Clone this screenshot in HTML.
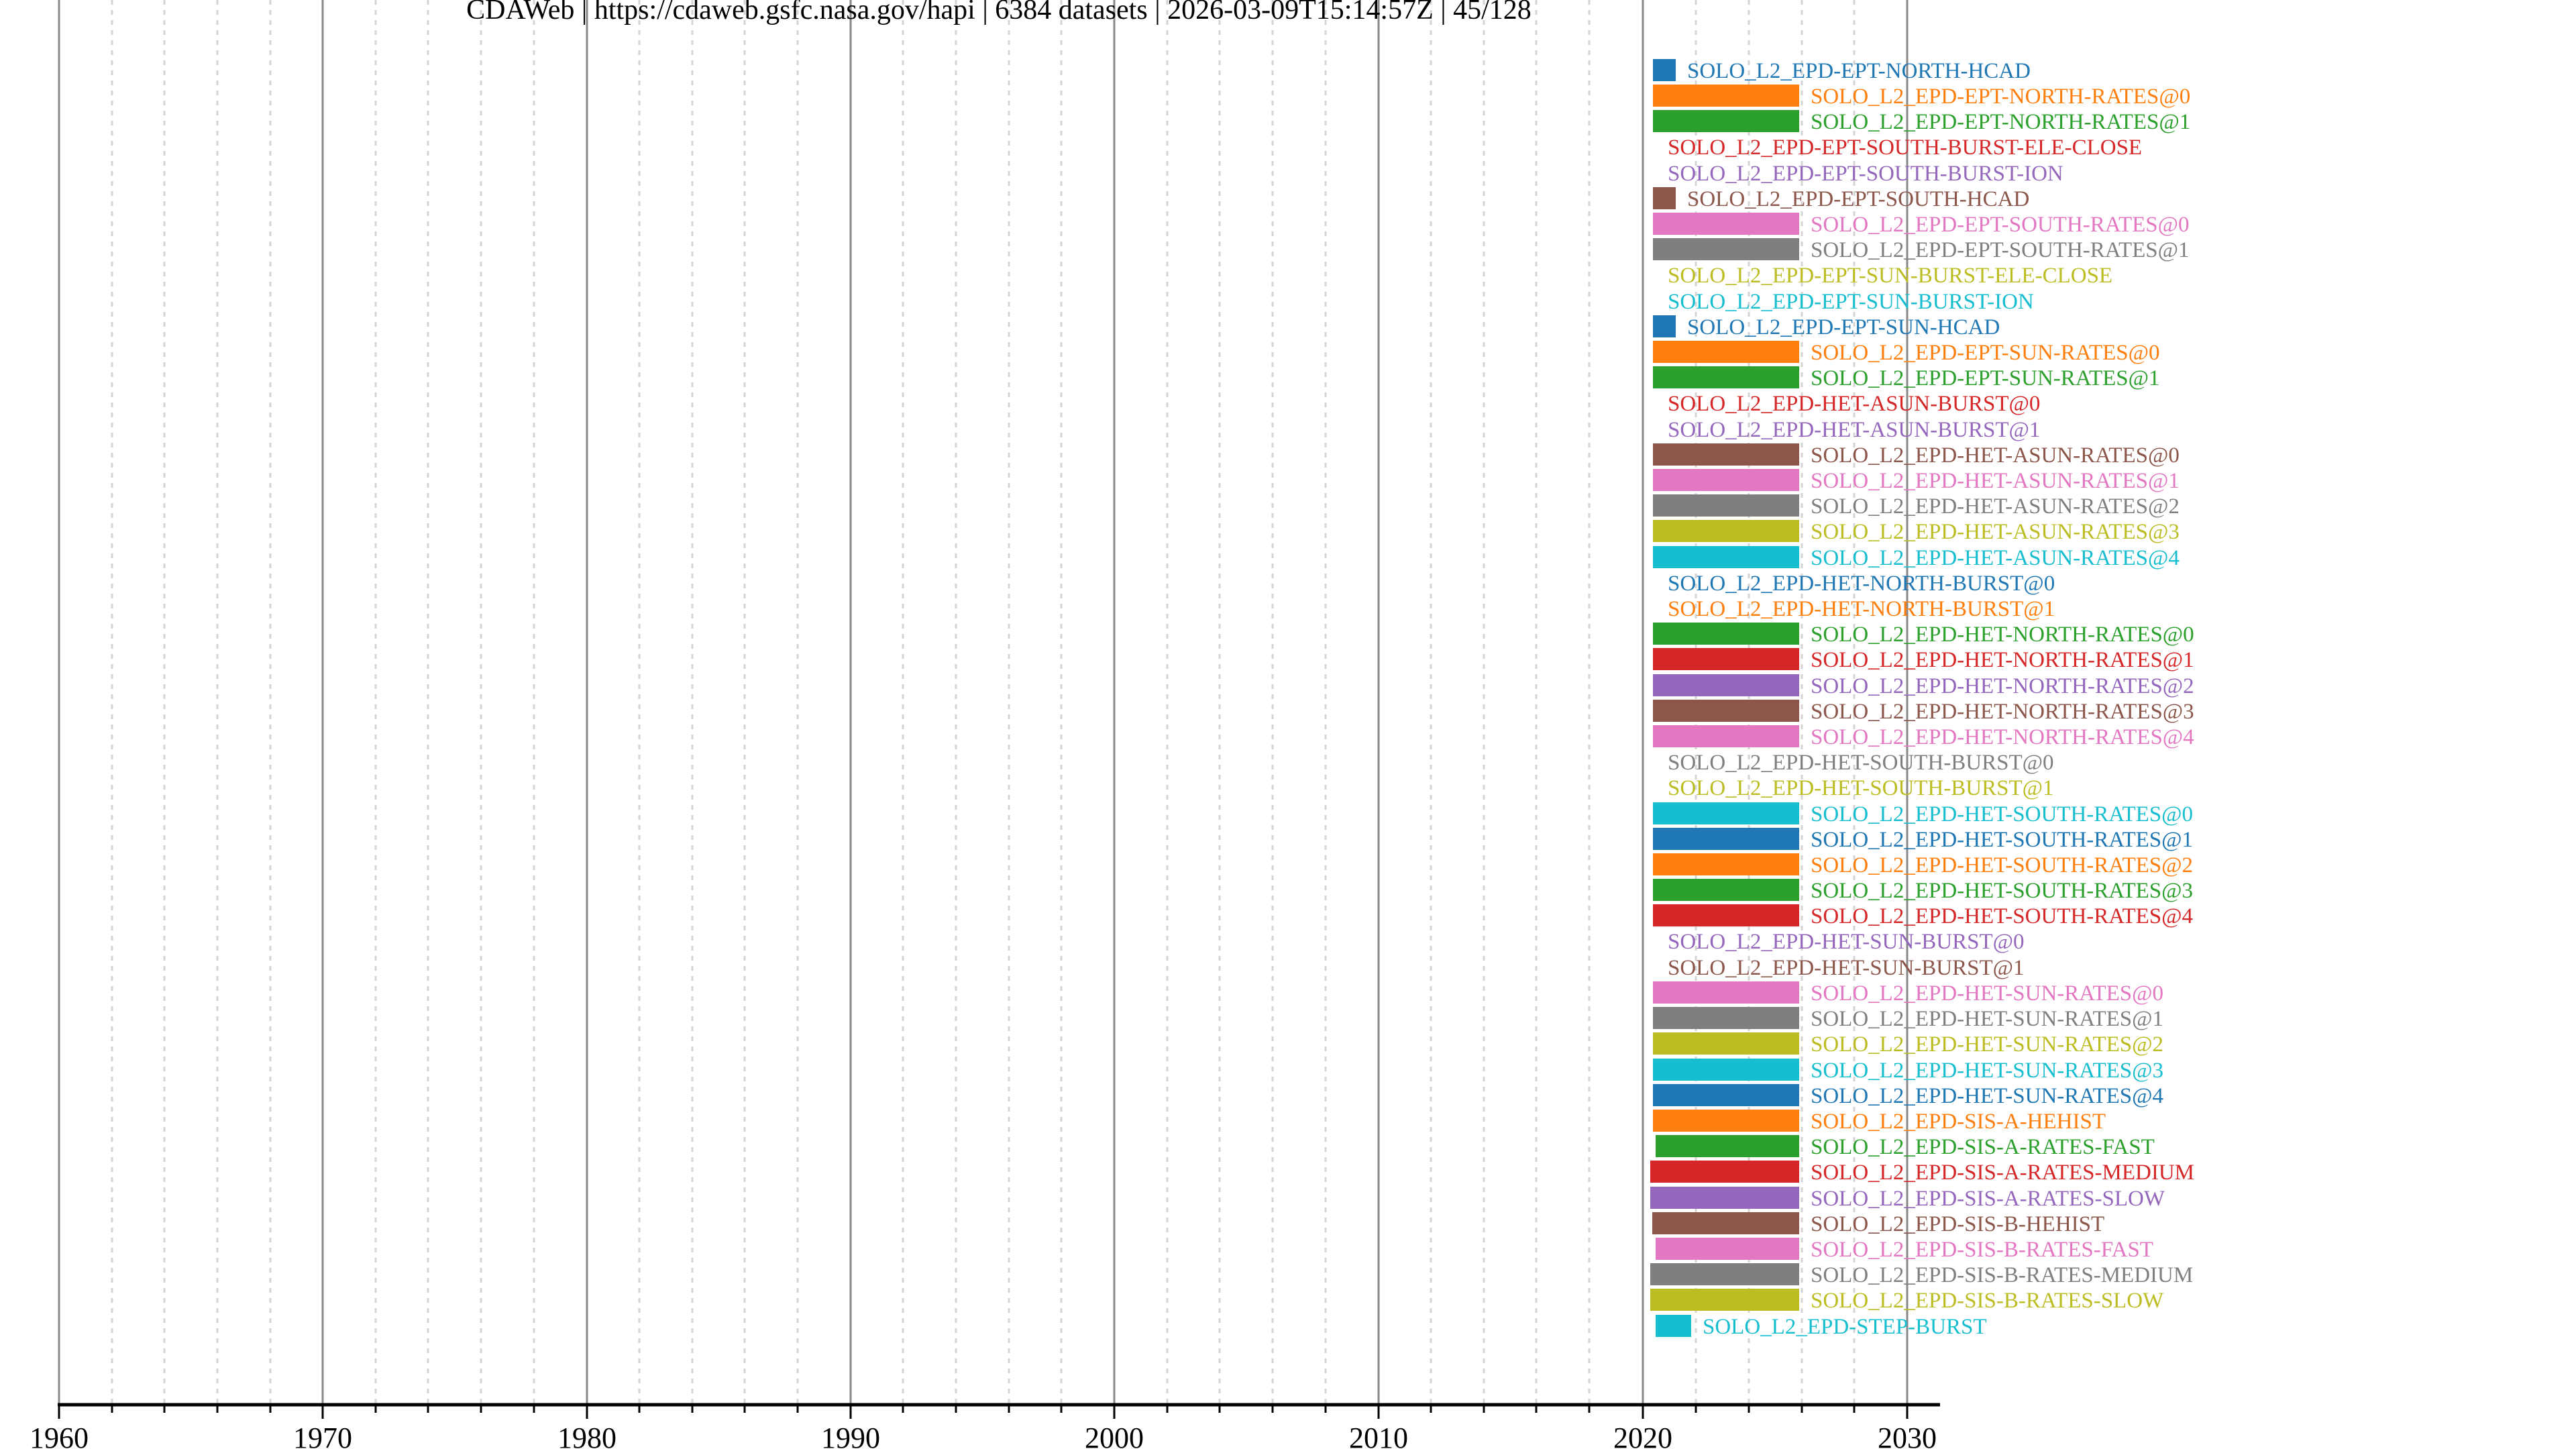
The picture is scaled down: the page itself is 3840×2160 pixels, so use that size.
<!DOCTYPE html>
<html><head><meta charset="utf-8"><style>
html,body{margin:0;padding:0;background:#fff;}
svg{display:block;font-family:"Liberation Serif",serif;}
.l{font-size:33px;}
</style></head><body>
<svg width="3840" height="2160" viewBox="0 0 3840 2160" xmlns="http://www.w3.org/2000/svg">
<g stroke="#d4d4d4" stroke-width="3" stroke-dasharray="7,8">
<line x1="167" y1="0" x2="167" y2="2094"/><line x1="245" y1="0" x2="245" y2="2094"/><line x1="324" y1="0" x2="324" y2="2094"/><line x1="403" y1="0" x2="403" y2="2094"/>
<line x1="560" y1="0" x2="560" y2="2094"/><line x1="638" y1="0" x2="638" y2="2094"/><line x1="717" y1="0" x2="717" y2="2094"/><line x1="796" y1="0" x2="796" y2="2094"/>
<line x1="953" y1="0" x2="953" y2="2094"/><line x1="1032" y1="0" x2="1032" y2="2094"/><line x1="1110" y1="0" x2="1110" y2="2094"/><line x1="1189" y1="0" x2="1189" y2="2094"/>
<line x1="1346" y1="0" x2="1346" y2="2094"/><line x1="1425" y1="0" x2="1425" y2="2094"/><line x1="1504" y1="0" x2="1504" y2="2094"/><line x1="1582" y1="0" x2="1582" y2="2094"/>
<line x1="1740" y1="0" x2="1740" y2="2094"/><line x1="1818" y1="0" x2="1818" y2="2094"/><line x1="1897" y1="0" x2="1897" y2="2094"/><line x1="1976" y1="0" x2="1976" y2="2094"/>
<line x1="2133" y1="0" x2="2133" y2="2094"/><line x1="2212" y1="0" x2="2212" y2="2094"/><line x1="2290" y1="0" x2="2290" y2="2094"/><line x1="2369" y1="0" x2="2369" y2="2094"/>
<line x1="2528" y1="0" x2="2528" y2="2094"/><line x1="2607" y1="0" x2="2607" y2="2094"/><line x1="2686" y1="0" x2="2686" y2="2094"/><line x1="2764" y1="0" x2="2764" y2="2094"/>
</g>
<g stroke="#888" stroke-width="3">
<line x1="88" y1="0" x2="88" y2="2094"/><line x1="481" y1="0" x2="481" y2="2094"/><line x1="875" y1="0" x2="875" y2="2094"/><line x1="1268" y1="0" x2="1268" y2="2094"/><line x1="1661" y1="0" x2="1661" y2="2094"/><line x1="2055" y1="0" x2="2055" y2="2094"/><line x1="2449" y1="0" x2="2449" y2="2094"/><line x1="2843" y1="0" x2="2843" y2="2094"/>
</g>
<text x="1489" y="28" font-size="42" text-anchor="middle">CDAWeb | https://cdaweb.gsfc.nasa.gov/hapi | 6384 datasets | 2026-03-09T15:14:57Z | 45/128</text>
<g>
<rect x="2464" y="88" width="34" height="33" fill="#1f77b4"/><text class="l" x="2515" y="116" fill="#1f77b4">SOLO_L2_EPD-EPT-NORTH-HCAD</text>
<rect x="2464" y="126" width="218" height="33" fill="#ff7f0e"/><text class="l" x="2699" y="154" fill="#ff7f0e">SOLO_L2_EPD-EPT-NORTH-RATES@0</text>
<rect x="2464" y="164" width="218" height="33" fill="#2ca02c"/><text class="l" x="2699" y="192" fill="#2ca02c">SOLO_L2_EPD-EPT-NORTH-RATES@1</text>
<text class="l" x="2486" y="230" fill="#d62728">SOLO_L2_EPD-EPT-SOUTH-BURST-ELE-CLOSE</text>
<text class="l" x="2486" y="269" fill="#9467bd">SOLO_L2_EPD-EPT-SOUTH-BURST-ION</text>
<rect x="2464" y="279" width="34" height="33" fill="#8c564b"/><text class="l" x="2515" y="307" fill="#8c564b">SOLO_L2_EPD-EPT-SOUTH-HCAD</text>
<rect x="2464" y="317" width="218" height="33" fill="#e377c2"/><text class="l" x="2699" y="345" fill="#e377c2">SOLO_L2_EPD-EPT-SOUTH-RATES@0</text>
<rect x="2464" y="355" width="218" height="33" fill="#7f7f7f"/><text class="l" x="2699" y="383" fill="#7f7f7f">SOLO_L2_EPD-EPT-SOUTH-RATES@1</text>
<text class="l" x="2486" y="421" fill="#bcbd22">SOLO_L2_EPD-EPT-SUN-BURST-ELE-CLOSE</text>
<text class="l" x="2486" y="460" fill="#17becf">SOLO_L2_EPD-EPT-SUN-BURST-ION</text>
<rect x="2464" y="470" width="34" height="33" fill="#1f77b4"/><text class="l" x="2515" y="498" fill="#1f77b4">SOLO_L2_EPD-EPT-SUN-HCAD</text>
<rect x="2464" y="508" width="218" height="33" fill="#ff7f0e"/><text class="l" x="2699" y="536" fill="#ff7f0e">SOLO_L2_EPD-EPT-SUN-RATES@0</text>
<rect x="2464" y="546" width="218" height="33" fill="#2ca02c"/><text class="l" x="2699" y="574" fill="#2ca02c">SOLO_L2_EPD-EPT-SUN-RATES@1</text>
<text class="l" x="2486" y="612" fill="#d62728">SOLO_L2_EPD-HET-ASUN-BURST@0</text>
<text class="l" x="2486" y="651" fill="#9467bd">SOLO_L2_EPD-HET-ASUN-BURST@1</text>
<rect x="2464" y="661" width="218" height="33" fill="#8c564b"/><text class="l" x="2699" y="689" fill="#8c564b">SOLO_L2_EPD-HET-ASUN-RATES@0</text>
<rect x="2464" y="699" width="218" height="33" fill="#e377c2"/><text class="l" x="2699" y="727" fill="#e377c2">SOLO_L2_EPD-HET-ASUN-RATES@1</text>
<rect x="2464" y="737" width="218" height="33" fill="#7f7f7f"/><text class="l" x="2699" y="765" fill="#7f7f7f">SOLO_L2_EPD-HET-ASUN-RATES@2</text>
<rect x="2464" y="775" width="218" height="33" fill="#bcbd22"/><text class="l" x="2699" y="803" fill="#bcbd22">SOLO_L2_EPD-HET-ASUN-RATES@3</text>
<rect x="2464" y="814" width="218" height="33" fill="#17becf"/><text class="l" x="2699" y="842" fill="#17becf">SOLO_L2_EPD-HET-ASUN-RATES@4</text>
<text class="l" x="2486" y="880" fill="#1f77b4">SOLO_L2_EPD-HET-NORTH-BURST@0</text>
<text class="l" x="2486" y="918" fill="#ff7f0e">SOLO_L2_EPD-HET-NORTH-BURST@1</text>
<rect x="2464" y="928" width="218" height="33" fill="#2ca02c"/><text class="l" x="2699" y="956" fill="#2ca02c">SOLO_L2_EPD-HET-NORTH-RATES@0</text>
<rect x="2464" y="966" width="218" height="33" fill="#d62728"/><text class="l" x="2699" y="994" fill="#d62728">SOLO_L2_EPD-HET-NORTH-RATES@1</text>
<rect x="2464" y="1005" width="218" height="33" fill="#9467bd"/><text class="l" x="2699" y="1033" fill="#9467bd">SOLO_L2_EPD-HET-NORTH-RATES@2</text>
<rect x="2464" y="1043" width="218" height="33" fill="#8c564b"/><text class="l" x="2699" y="1071" fill="#8c564b">SOLO_L2_EPD-HET-NORTH-RATES@3</text>
<rect x="2464" y="1081" width="218" height="33" fill="#e377c2"/><text class="l" x="2699" y="1109" fill="#e377c2">SOLO_L2_EPD-HET-NORTH-RATES@4</text>
<text class="l" x="2486" y="1147" fill="#7f7f7f">SOLO_L2_EPD-HET-SOUTH-BURST@0</text>
<text class="l" x="2486" y="1185" fill="#bcbd22">SOLO_L2_EPD-HET-SOUTH-BURST@1</text>
<rect x="2464" y="1196" width="218" height="33" fill="#17becf"/><text class="l" x="2699" y="1224" fill="#17becf">SOLO_L2_EPD-HET-SOUTH-RATES@0</text>
<rect x="2464" y="1234" width="218" height="33" fill="#1f77b4"/><text class="l" x="2699" y="1262" fill="#1f77b4">SOLO_L2_EPD-HET-SOUTH-RATES@1</text>
<rect x="2464" y="1272" width="218" height="33" fill="#ff7f0e"/><text class="l" x="2699" y="1300" fill="#ff7f0e">SOLO_L2_EPD-HET-SOUTH-RATES@2</text>
<rect x="2464" y="1310" width="218" height="33" fill="#2ca02c"/><text class="l" x="2699" y="1338" fill="#2ca02c">SOLO_L2_EPD-HET-SOUTH-RATES@3</text>
<rect x="2464" y="1348" width="218" height="33" fill="#d62728"/><text class="l" x="2699" y="1376" fill="#d62728">SOLO_L2_EPD-HET-SOUTH-RATES@4</text>
<text class="l" x="2486" y="1414" fill="#9467bd">SOLO_L2_EPD-HET-SUN-BURST@0</text>
<text class="l" x="2486" y="1453" fill="#8c564b">SOLO_L2_EPD-HET-SUN-BURST@1</text>
<rect x="2464" y="1463" width="218" height="33" fill="#e377c2"/><text class="l" x="2699" y="1491" fill="#e377c2">SOLO_L2_EPD-HET-SUN-RATES@0</text>
<rect x="2464" y="1501" width="218" height="33" fill="#7f7f7f"/><text class="l" x="2699" y="1529" fill="#7f7f7f">SOLO_L2_EPD-HET-SUN-RATES@1</text>
<rect x="2464" y="1539" width="218" height="33" fill="#bcbd22"/><text class="l" x="2699" y="1567" fill="#bcbd22">SOLO_L2_EPD-HET-SUN-RATES@2</text>
<rect x="2464" y="1578" width="218" height="33" fill="#17becf"/><text class="l" x="2699" y="1606" fill="#17becf">SOLO_L2_EPD-HET-SUN-RATES@3</text>
<rect x="2464" y="1616" width="218" height="33" fill="#1f77b4"/><text class="l" x="2699" y="1644" fill="#1f77b4">SOLO_L2_EPD-HET-SUN-RATES@4</text>
<rect x="2464" y="1654" width="218" height="33" fill="#ff7f0e"/><text class="l" x="2699" y="1682" fill="#ff7f0e">SOLO_L2_EPD-SIS-A-HEHIST</text>
<rect x="2468" y="1692" width="214" height="33" fill="#2ca02c"/><text class="l" x="2699" y="1720" fill="#2ca02c">SOLO_L2_EPD-SIS-A-RATES-FAST</text>
<rect x="2460" y="1730" width="222" height="33" fill="#d62728"/><text class="l" x="2699" y="1758" fill="#d62728">SOLO_L2_EPD-SIS-A-RATES-MEDIUM</text>
<rect x="2460" y="1769" width="222" height="33" fill="#9467bd"/><text class="l" x="2699" y="1797" fill="#9467bd">SOLO_L2_EPD-SIS-A-RATES-SLOW</text>
<rect x="2463" y="1807" width="219" height="33" fill="#8c564b"/><text class="l" x="2699" y="1835" fill="#8c564b">SOLO_L2_EPD-SIS-B-HEHIST</text>
<rect x="2468" y="1845" width="214" height="33" fill="#e377c2"/><text class="l" x="2699" y="1873" fill="#e377c2">SOLO_L2_EPD-SIS-B-RATES-FAST</text>
<rect x="2460" y="1883" width="222" height="33" fill="#7f7f7f"/><text class="l" x="2699" y="1911" fill="#7f7f7f">SOLO_L2_EPD-SIS-B-RATES-MEDIUM</text>
<rect x="2460" y="1921" width="222" height="33" fill="#bcbd22"/><text class="l" x="2699" y="1949" fill="#bcbd22">SOLO_L2_EPD-SIS-B-RATES-SLOW</text>
<rect x="2468" y="1960" width="53" height="33" fill="#17becf"/><text class="l" x="2538" y="1988" fill="#17becf">SOLO_L2_EPD-STEP-BURST</text>
</g>
<line x1="86" y1="2094" x2="2892" y2="2094" stroke="#000" stroke-width="5"/>
<g stroke="#000" stroke-width="3">
<line x1="88" y1="2094" x2="88" y2="2115"/><line x1="481" y1="2094" x2="481" y2="2115"/><line x1="875" y1="2094" x2="875" y2="2115"/><line x1="1268" y1="2094" x2="1268" y2="2115"/><line x1="1661" y1="2094" x2="1661" y2="2115"/><line x1="2055" y1="2094" x2="2055" y2="2115"/><line x1="2449" y1="2094" x2="2449" y2="2115"/><line x1="2843" y1="2094" x2="2843" y2="2115"/>
<line x1="167" y1="2094" x2="167" y2="2106"/><line x1="245" y1="2094" x2="245" y2="2106"/><line x1="324" y1="2094" x2="324" y2="2106"/><line x1="403" y1="2094" x2="403" y2="2106"/>
<line x1="560" y1="2094" x2="560" y2="2106"/><line x1="638" y1="2094" x2="638" y2="2106"/><line x1="717" y1="2094" x2="717" y2="2106"/><line x1="796" y1="2094" x2="796" y2="2106"/>
<line x1="953" y1="2094" x2="953" y2="2106"/><line x1="1032" y1="2094" x2="1032" y2="2106"/><line x1="1110" y1="2094" x2="1110" y2="2106"/><line x1="1189" y1="2094" x2="1189" y2="2106"/>
<line x1="1346" y1="2094" x2="1346" y2="2106"/><line x1="1425" y1="2094" x2="1425" y2="2106"/><line x1="1504" y1="2094" x2="1504" y2="2106"/><line x1="1582" y1="2094" x2="1582" y2="2106"/>
<line x1="1740" y1="2094" x2="1740" y2="2106"/><line x1="1818" y1="2094" x2="1818" y2="2106"/><line x1="1897" y1="2094" x2="1897" y2="2106"/><line x1="1976" y1="2094" x2="1976" y2="2106"/>
<line x1="2133" y1="2094" x2="2133" y2="2106"/><line x1="2212" y1="2094" x2="2212" y2="2106"/><line x1="2290" y1="2094" x2="2290" y2="2106"/><line x1="2369" y1="2094" x2="2369" y2="2106"/>
<line x1="2528" y1="2094" x2="2528" y2="2106"/><line x1="2607" y1="2094" x2="2607" y2="2106"/><line x1="2686" y1="2094" x2="2686" y2="2106"/><line x1="2764" y1="2094" x2="2764" y2="2106"/>
</g>
<g font-size="44" text-anchor="middle">
<text x="88" y="2158">1960</text><text x="481" y="2158">1970</text><text x="875" y="2158">1980</text><text x="1268" y="2158">1990</text><text x="1661" y="2158">2000</text><text x="2055" y="2158">2010</text><text x="2449" y="2158">2020</text><text x="2843" y="2158">2030</text>
</g>
</svg>
</body></html>
